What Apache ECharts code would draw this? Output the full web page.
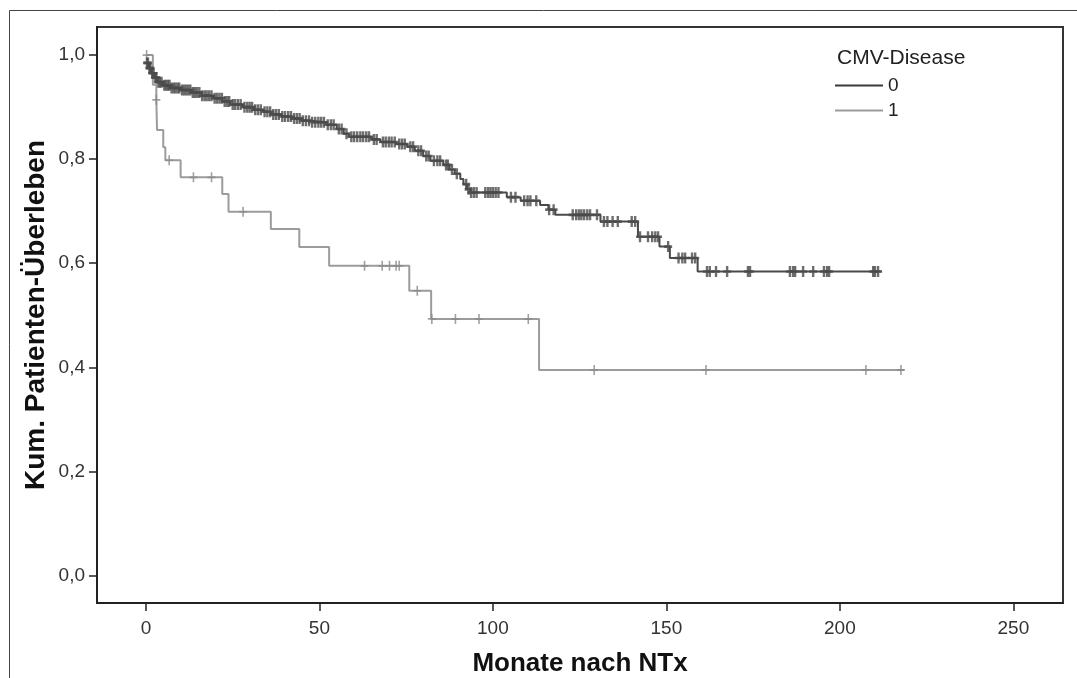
<!DOCTYPE html>
<html>
<head>
<meta charset="utf-8">
<script src="https://cdn.jsdelivr.net/npm/echarts@6/dist/echarts.min.js"></script>
<style>
  html, body { margin: 0; padding: 0; background: #fff; }
  #chart { width: 1077px; height: 678px; }
</style>
</head>
<body>
<div id="chart"></div>
<script>
// Kaplan-Meier steps: time (Monate) and survival after the step
const timesGroup0 = [0, 0.8, 1.5, 2.5, 3.3, 5, 7, 10, 13, 16, 19.4, 22, 24.3, 28, 31, 33.8, 36, 39, 42, 45,
  47.4, 52, 55, 57, 58.5, 65, 67.6, 72, 75.3, 77.5, 79.9, 82, 85.7, 87.5, 89, 90.6, 91.5, 92.5, 93.5,
  104, 108, 113.6, 116, 118, 131, 141.8, 148, 151, 159, 212];
const survGroup0 = [0.985, 0.975, 0.965, 0.957, 0.948, 0.942, 0.937, 0.933, 0.928, 0.922, 0.917, 0.911, 0.905, 0.9, 0.895, 0.891, 0.886, 0.882, 0.878, 0.874,
  0.871, 0.866, 0.858, 0.849, 0.843, 0.838, 0.833, 0.829, 0.824, 0.816, 0.806, 0.797, 0.789, 0.78, 0.772, 0.762, 0.752, 0.742, 0.736,
  0.727, 0.72, 0.712, 0.703, 0.693, 0.68, 0.651, 0.632, 0.61, 0.584, 0.584];

const timesGroup1 = [0, 2, 3, 3.2, 5, 5.6, 10, 22, 23.8, 36, 44.2, 52.8, 75.9, 82.2, 113.3, 218.5];
const survGroup1 = [1.0, 0.943, 0.914, 0.856, 0.823, 0.798, 0.765, 0.733, 0.699, 0.666, 0.631, 0.595, 0.547, 0.493, 0.395, 0.395];

// censored cases (time)
const censorGroup0 = [0.3, 0.6, 1.0, 1.3, 1.8, 2.2, 2.7, 3.0, 3.6, 4.0, 4.5, 5.3, 5.8, 6.3, 6.8, 7.4, 8.0, 8.5, 9.1, 9.6,
  10.4, 11.0, 11.6, 12.2, 12.8, 13.5, 14.1, 14.7, 15.4, 16.2, 16.9, 17.5, 18.2, 18.9, 19.8,
  20.5, 21.2, 21.9, 22.7, 23.4, 24.0, 25.0, 25.7, 26.5, 27.3, 28.4, 29.2, 29.9,
  30.6, 31.5, 32.3, 33.1, 34.2, 35.0, 35.8, 36.7, 37.5, 38.3, 39.3,
  40.1, 41.0, 41.8, 42.7, 43.5, 44.3, 45.2, 46.1, 47.0, 47.9, 48.8, 49.7,
  50.5, 51.3, 52.4, 53.3, 54.1, 55.6, 56.4, 57.8, 59.2,
  60.0, 60.9, 61.8, 62.6, 63.5, 64.3, 65.7, 66.5, 68.3, 69.1,
  70.0, 70.8, 71.7, 73.0, 73.8, 74.6, 76.2, 77.0, 78.5, 79.3,
  80.8, 81.5, 83.0, 84.0, 84.8, 86.5, 87.0, 88.2, 89.6,
  92.3, 93.0, 93.7, 94.5, 95.3, 97.8, 98.6, 99.3, 100.0, 100.8, 101.6, 105.2, 106.5, 109.0, 110.0, 110.8, 112.5,
  116.2, 117.5, 123.0, 124.0, 124.8, 125.5, 126.3, 127.2, 128.0, 130.0,
  132.0, 133.0, 134.5, 136.0, 140.0, 141.0, 142.4, 144.7, 145.9, 146.8, 147.6, 150.5, 153.5, 154.6, 155.4, 157.4, 158.3,
  161.7, 162.5, 164.3, 167.5, 173.5, 174.1, 185.6, 186.5, 187.1, 189.4, 192.3, 195.4, 196.3, 196.9, 209.6, 210.1, 211];
const censorGroup1 = [0.2, 3.0, 6.7, 13.7, 18.9, 28, 63, 68.1, 70.2, 72.1, 73, 78.2, 82.4, 89.2, 96, 110.2, 129.2, 161.4, 207.5, 217.6];

const xTicks = [0, 50, 100, 150, 200, 250];
const yTicks = [0, 0.2, 0.4, 0.6, 0.8, 1.0];
const groupNames = ['0', '1'];

const FONT = '"Liberation Sans", Arial, sans-serif';
const DARK = '#4a4a4a';
const LIGHT = '#9c9c9c';

function steps(times, surv) {
  return times.map((t, i) => [t, surv[i]]);
}

// survival value valid at time t (last step at or before t)
function survivalAt(times, surv, t) {
  let s = surv[0];
  for (let i = 0; i < times.length; ++i) {
    if (times[i] <= t) s = surv[i];
  }
  return s;
}

function censorPoints(censor, times, surv) {
  return censor.map(t => [t, survivalAt(times, surv, t)]);
}

const crossThin = 'path://M3.2,0h1.6v10h-1.6zM0,4.2h8v1.6h-8z';
const crossBold = 'path://M2.8,0h2.4v11h-2.4zM0,4.2h8v2.6h-8z';

const chart = echarts.init(document.getElementById('chart'));

const option = {
  animation: false,
  backgroundColor: '#fff',
  textStyle: { fontFamily: FONT },
  title: {
    text: 'CMV-Disease',
    left: 832,
    top: 43,
    textStyle: { fontFamily: FONT, fontSize: 21, fontWeight: 'normal', color: '#222' }
  },
  legend: {
    data: groupNames,
    orient: 'vertical',
    left: 830,
    top: 71,
    itemWidth: 48,
    itemHeight: 2,
    itemGap: 6,
    icon: 'rect',
    textStyle: { fontFamily: FONT, fontSize: 19, color: '#222' }
  },
  grid: {
    left: 97,
    right: 14,
    top: 27,
    bottom: 75,
    outerBoundsMode: 'none',
    containLabel: false,
    show: true,
    borderColor: '#333',
    borderWidth: 2,
    backgroundColor: '#fff'
  },
  xAxis: {
    type: 'value',
    min: -14.1,
    max: 264.3,
    name: 'Monate nach NTx',
    nameLocation: 'middle',
    nameGap: 48,
    nameTextStyle: { fontFamily: FONT, fontSize: 26, fontWeight: 'bold', color: '#111' },
    axisLine: { onZero: false, lineStyle: { color: '#222', width: 2 } },
    axisTick: { customValues: xTicks, length: 8, lineStyle: { color: '#222', width: 1.5 } },
    axisLabel: { customValues: xTicks, fontSize: 19, color: '#333', margin: 16 },
    splitLine: { show: false }
  },
  yAxis: {
    type: 'value',
    min: -0.053,
    max: 1.054,
    name: 'Kum. Patienten-Überleben',
    nameLocation: 'middle',
    nameGap: 47,
    nameMoveOverlap: false,
    nameTextStyle: { fontFamily: FONT, fontSize: 28, fontWeight: 'bold', color: '#111' },
    axisLine: { onZero: false, lineStyle: { color: '#222', width: 2 } },
    axisTick: { customValues: yTicks, length: 8, lineStyle: { color: '#222', width: 1.5 } },
    axisLabel: {
      customValues: yTicks,
      fontSize: 19,
      color: '#333',
      margin: 12,
      formatter: v => v.toFixed(1).replace('.', ',')
    },
    splitLine: { show: false }
  },
  series: [
    {
      name: '1',
      type: 'line',
      step: 'end',
      data: steps(timesGroup1, survGroup1),
      showSymbol: false,
      color: LIGHT,
      lineStyle: { color: LIGHT, width: 2 },
      z: 2
    },
    {
      name: 'censor1',
      type: 'scatter',
      data: censorPoints(censorGroup1, timesGroup1, survGroup1),
      symbol: crossThin,
      symbolSize: [8, 10],
      symbolKeepAspect: false,
      itemStyle: { color: '#8a8a8a' },
      silent: true,
      z: 3
    },
    {
      name: '0',
      type: 'line',
      step: 'end',
      data: steps(timesGroup0, survGroup0),
      showSymbol: false,
      color: '#3a3a3a',
      lineStyle: { color: DARK, width: 2 },
      z: 4
    },
    {
      name: 'censor0',
      type: 'scatter',
      data: censorPoints(censorGroup0, timesGroup0, survGroup0),
      symbol: crossBold,
      symbolSize: [8, 11],
      symbolKeepAspect: false,
      itemStyle: { color: DARK },
      silent: true,
      z: 5
    }
  ],
  graphic: [
    {
      type: 'rect',
      left: 7,
      top: 8,
      shape: { width: 1200, height: 800 },
      style: { fill: 'none', stroke: '#444', lineWidth: 1 },
      silent: true,
      z: 100
    }
  ]
};

chart.setOption(option);
window.addEventListener('resize', () => { chart.resize(); });
</script>
</body>
</html>
